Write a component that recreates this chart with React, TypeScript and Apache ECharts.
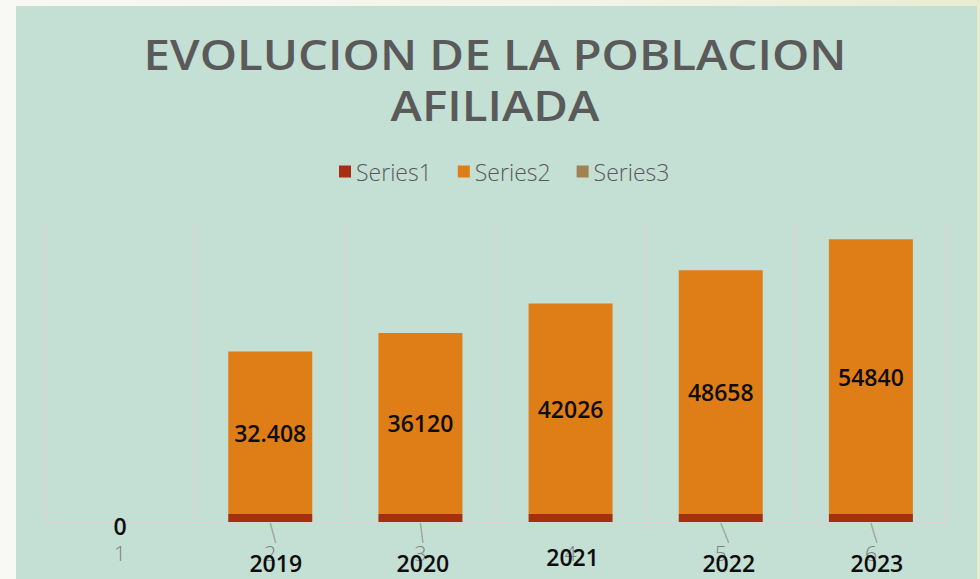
import React, { useEffect, useRef } from "react";
import * as echarts from "echarts";

// ---- data ----
const categories = ["1", "2", "3", "4", "5", "6"];
const series1Values = [0, 1610, 1610, 1610, 1610, 1610];
const series2Values = [0, 32408, 36120, 42026, 48658, 54840];
const series2Labels = ["0", "32.408", "36120", "42026", "48658", "54840"];
const series3Values = [0, 0, 0, 0, 0, 0];
const series3Labels = ["", "2019", "2020", "2021", "2022", "2023"];
const titleLines = ["EVOLUCION DE LA POBLACION", "AFILIADA"];
const legendNames = ["Series1", "Series2", "Series3"];

// ---- layout (label nudges, in px, relative to the axis point) ----
const yearLabelDx = [0, 5.5, 2.5, 2, 8, 6];
const yearLabelDy = [0, 41, 41, 35, 41, 41];
const yearLeaderShown = [false, true, true, false, true, true];

const COLORS = ["#a52f12", "#df7e17", "#a08350"];

export default function App() {
  const ref = useRef<HTMLDivElement>(null);
  useEffect(() => {
    if (!ref.current) return;
    const chart = echarts.init(ref.current, undefined, { renderer: "svg" });
    const labelFont = { fontFamily: "Open Sans", fontWeight: 600, fontSize: 23 };
    chart.setOption({
      animation: false,
      graphic: [
        {
          type: "rect",
          z: -100,
          shape: { x: 16, y: 6, width: 961, height: 580 },
          style: { fill: "#c4dfd4" },
        },
        ...titleLines.map((t, i) => ({
          type: "text",
          x: 495,
          y: 54 + i * 51,
          scaleX: 1.13,
          style: {
            text: t,
            fontFamily: "Open Sans",
            fontWeight: 600,
            fontSize: 42,
            fill: "#5a5a5a",
            align: "center",
            verticalAlign: "middle",
          },
        })),
      ],
      legend: {
        data: legendNames.map((n) => ({ name: n, icon: "rect" })),
        left: 334,
        top: 155,
        itemWidth: 12,
        itemHeight: 12,
        itemGap: 26,
        textStyle: {
          fontFamily: "Open Sans",
          fontWeight: 300,
          fontSize: 23,
          color: "#595959",
        },
      },
      grid: { left: 45, right: 34, top: 224, bottom: 57 },
      xAxis: {
        type: "category",
        data: categories,
        boundaryGap: true,
        axisLine: { lineStyle: { color: "#d6d6d6", width: 2 } },
        axisTick: { show: false },
        splitLine: {
          show: true,
          interval: 0,
          lineStyle: { color: "#d6d6d6", width: 2 },
        },
        axisLabel: {
          color: "#7f7f7f",
          fontFamily: "Open Sans",
          fontWeight: 300,
          fontSize: 21,
          margin: 20,
        },
      },
      yAxis: {
        type: "value",
        min: 0,
        max: 59500,
        show: false,
        splitLine: { show: false },
      },
      series: [
        {
          name: "Series1",
          type: "bar",
          stack: "total",
          barWidth: 84,
          data: series1Values,
          itemStyle: { color: COLORS[0] },
        },
        {
          name: "Series2",
          type: "bar",
          stack: "total",
          barWidth: 84,
          data: series2Values.map((v, i) =>
            i === 0 ? { value: v, label: { offset: [0, 4] } } : v
          ),
          itemStyle: { color: COLORS[1] },
          label: {
            show: true,
            position: "inside",
            color: "#0d0d0d",
            ...labelFont,
            formatter: (p: any) => series2Labels[p.dataIndex],
          },
        },
        {
          name: "Series3",
          type: "custom",
          itemStyle: { color: COLORS[2] },
          data: series3Values.map((v, i) => [i, v]),
          encode: { x: 0, y: 1 },
          z: 5,
          renderItem: (params: any, api: any) => {
            const idx = params.dataIndex;
            const text = series3Labels[idx];
            if (!text) return null;
            const p = api.coord([idx, api.value(1)]);
            const dx = yearLabelDx[idx];
            const dy = yearLabelDy[idx];
            const children: any[] = [];
            if (yearLeaderShown[idx]) {
              children.push({
                type: "line",
                shape: { x1: p[0], y1: p[1] + 1, x2: p[0] + dx, y2: p[1] + dy - 20 },
                style: { stroke: "#a6a6a6", lineWidth: 1.5 },
              });
            }
            children.push({
              type: "text",
              x: p[0] + dx,
              y: p[1] + dy,
              style: {
                text,
                fill: "#0d0d0d",
                font: `600 23px "Open Sans"`,
                align: "center",
                verticalAlign: "middle",
              },
            });
            return { type: "group", children };
          },
        },
      ],
    });
    return () => chart.dispose();
  }, []);

  return (
    <div
      style={{
        position: "fixed",
        left: 0,
        top: 0,
        width: 980,
        height: 579,
        background: "linear-gradient(90deg, #f8f8f4 0%, #f2f4e6 60%, #e8edd2 100%)",
      }}
    >
      <div ref={ref} style={{ width: 980, height: 579 }} />
    </div>
  );
}
